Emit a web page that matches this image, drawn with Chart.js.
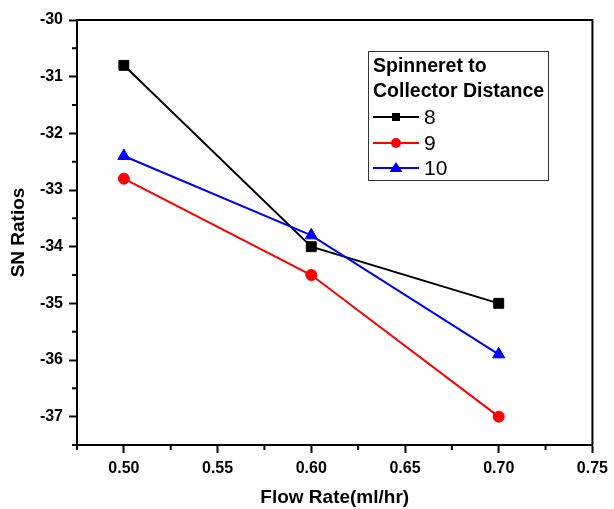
<!DOCTYPE html>
<html>
<head>
<meta charset="utf-8">
<title>SN Ratios vs Flow Rate</title>
<script src="https://cdn.jsdelivr.net/npm/chart.js@4.4.0/dist/chart.umd.min.js"></script>
<style>
    html, body { margin: 0; padding: 0; background: #fff; }
    #wrap { width: 614px; height: 509px; position: relative; }
</style>
</head>
<body>
<div id="wrap"><canvas id="snChart"></canvas></div>
<script>
// Datos del gráfico
const flowRates = [0.50, 0.60, 0.70];
const dist8 = [-30.8, -34.0, -35.0];
const dist9 = [-32.8, -34.5, -37.0];
const dist10 = [-32.4, -33.8, -35.9];
const seriesNames = ['8', '9', '10'];
const xTicks = [0.50, 0.55, 0.60, 0.65, 0.70, 0.75];
const yTicks = [-37, -36, -35, -34, -33, -32, -31, -30];
const legendTitle = ['Spinneret to', 'Collector Distance'];

const FONT = 'Arial, "Liberation Sans", sans-serif';

function toPoints(values) {
    return flowRates.map((x, i) => ({ x: x, y: values[i] }));
}

function makeDataset(label, values, color, style, radius, order) {
    return {
        label: label,
        data: toPoints(values),
        borderColor: color,
        backgroundColor: color,
        pointBackgroundColor: color,
        pointBorderColor: color,
        pointStyle: style,
        pointRadius: radius,
        pointBorderWidth: 1,
        borderWidth: 2,
        tension: 0,
        order: order
    };
}

// marco superior/derecho, ticks menores y leyenda
const framePlugin = {
    id: 'framePlugin',
    afterDraw(chart) {
        const ctx = chart.ctx;
        const area = chart.chartArea;
        const xs = chart.scales.x;
        const ys = chart.scales.y;

        ctx.save();
        ctx.strokeStyle = '#000';
        ctx.lineWidth = 2;
        ctx.beginPath();
        ctx.moveTo(area.left - 1, area.top);
        ctx.lineTo(area.right, area.top);
        ctx.lineTo(area.right, area.bottom);
        ctx.stroke();

        // ticks menores
        const xStep = xTicks[1] - xTicks[0];
        const yStep = yTicks[1] - yTicks[0];
        ctx.beginPath();
        for (let i = 0; i < xTicks.length; i++) {
            const px = xs.getPixelForValue(xTicks[i] - xStep / 2);
            ctx.moveTo(px, area.bottom);
            ctx.lineTo(px, area.bottom + 5);
        }
        for (let i = 0; i < yTicks.length; i++) {
            const py = ys.getPixelForValue(yTicks[i] - yStep / 2);
            ctx.moveTo(area.left, py);
            ctx.lineTo(area.left - 5, py);
        }
        ctx.stroke();

        // leyenda
        const bx = 368, by = 51, bw = 180, bh = 129;
        ctx.fillStyle = '#fff';
        ctx.fillRect(bx, by, bw, bh);
        ctx.lineWidth = 1;
        ctx.strokeStyle = '#333';
        ctx.strokeRect(bx + 0.5, by + 0.5, bw, bh);

        ctx.fillStyle = '#000';
        ctx.textBaseline = 'middle';
        ctx.textAlign = 'left';
        ctx.font = 'bold 19.5px ' + FONT;
        ctx.fillText(legendTitle[0], 373, 67);
        ctx.fillText(legendTitle[1], 373, 92);

        const rowY = [117, 143, 168];
        chart.data.datasets.forEach((ds, i) => {
            const y = rowY[i];
            ctx.strokeStyle = ds.borderColor;
            ctx.lineWidth = 2;
            ctx.beginPath();
            ctx.moveTo(373, y);
            ctx.lineTo(419, y);
            ctx.stroke();

            ctx.fillStyle = ds.borderColor;
            ctx.beginPath();
            if (ds.pointStyle === 'rect') {
                ctx.rect(392, y - 4, 8, 8);
            } else if (ds.pointStyle === 'circle') {
                ctx.arc(396, y, 5, 0, Math.PI * 2);
            } else {
                ctx.moveTo(396, y - 6);
                ctx.lineTo(402.5, y + 4);
                ctx.lineTo(389.5, y + 4);
                ctx.closePath();
            }
            ctx.fill();

            ctx.fillStyle = '#000';
            ctx.font = '21px ' + FONT;
            ctx.fillText(seriesNames[i], 424, y + 1);
        });
        ctx.restore();
    }
};

function initializeChart() {
    const ctx = document.getElementById('snChart').getContext('2d');
    new Chart(ctx, {
        type: 'line',
        data: {
            datasets: [
                makeDataset(seriesNames[0], dist8, '#000000', 'rect', 7, 3),
                makeDataset(seriesNames[1], dist9, '#ff0000', 'circle', 5.5, 2),
                makeDataset(seriesNames[2], dist10, '#0000ff', 'triangle', 7, 1)
            ]
        },
        options: {
            responsive: true,
            maintainAspectRatio: false,
            animation: false,
            layout: {
                padding: { top: 20, right: 18, left: 0, bottom: 0 }
            },
            plugins: {
                legend: { display: false },
                tooltip: { enabled: false }
            },
            scales: {
                x: {
                    type: 'linear',
                    min: 0.475,
                    max: 0.75,
                    afterBuildTicks: (scale) => {
                        scale.ticks = xTicks.map(v => ({ value: v }));
                    },
                    afterFit: (scale) => { scale.height = 64; },
                    grid: {
                        drawOnChartArea: false,
                        drawTicks: true,
                        tickLength: 8,
                        tickWidth: 2,
                        tickColor: '#000'
                    },
                    border: { display: true, color: '#000', width: 2 },
                    ticks: {
                        color: '#000',
                        font: { family: FONT, size: 16, weight: 'bold' },
                        padding: 6,
                        maxRotation: 0,
                        autoSkip: false,
                        callback: (v) => Number(v).toFixed(2)
                    },
                    title: {
                        display: true,
                        text: 'Flow Rate(ml/hr)',
                        color: '#000',
                        font: { family: FONT, size: 19, weight: 'bold' },
                        padding: { top: 0, bottom: 0 }
                    }
                },
                y: {
                    min: -37.5,
                    max: -30,
                    afterBuildTicks: (scale) => {
                        scale.ticks = yTicks.map(v => ({ value: v }));
                    },
                    afterFit: (scale) => { scale.width = 77; },
                    grid: {
                        drawOnChartArea: false,
                        drawTicks: true,
                        tickLength: 8,
                        tickWidth: 2,
                        tickColor: '#000'
                    },
                    border: { display: true, color: '#000', width: 2 },
                    ticks: {
                        color: '#000',
                        font: { family: FONT, size: 16, weight: 'bold' },
                        padding: 6,
                        autoSkip: false,
                        callback: (v) => String(v)
                    },
                    title: {
                        display: true,
                        text: 'SN Ratios',
                        color: '#000',
                        font: { family: FONT, size: 19, weight: 'bold' },
                        padding: { top: 7, bottom: 0 }
                    }
                }
            }
        },
        plugins: [framePlugin]
    });
}

document.addEventListener('DOMContentLoaded', initializeChart);
</script>
</body>
</html>
